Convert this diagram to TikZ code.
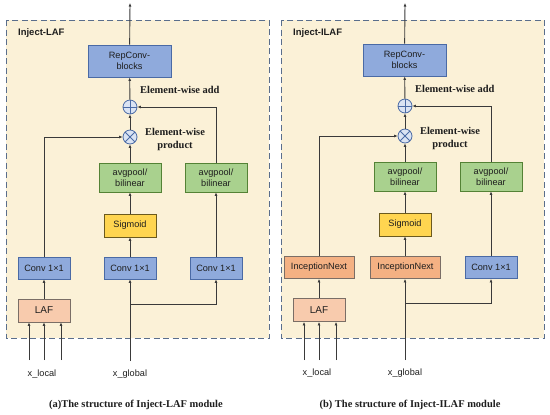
\documentclass[tikz,border=0pt]{standalone}
\usepackage{fontspec}
\setmainfont{Liberation Sans}
\newfontfamily\capfont{Liberation Serif}
\usepackage{tikz}
\usetikzlibrary{arrows.meta,positioning}
\definecolor{framebg}{HTML}{FBF1D7}
\definecolor{framegray}{HTML}{5A6E8C}
\definecolor{convblue}{HTML}{8FAADC}
\definecolor{convedge}{HTML}{4A6AA5}
\definecolor{sigyellow}{HTML}{FFD550}
\definecolor{sigedge}{HTML}{6B5A1E}
\definecolor{poolgreen}{HTML}{A9D18E}
\definecolor{pooledge}{HTML}{548235}
\definecolor{lafpeach}{HTML}{F8CBAD}
\definecolor{incorange}{HTML}{F4B183}
\definecolor{warmedge}{HTML}{7A6E66}
\definecolor{opfill}{HTML}{DAE3F3}
\definecolor{wire}{HTML}{3A3A3A}
\definecolor{ink}{HTML}{1E1E1E}

\begin{document}
\begin{tikzpicture}[
  x=1bp, y=-1bp,
  every node/.style={font=\fontsize{9.2}{10.5}\selectfont, align=center, inner sep=0pt, text=ink},
  blk/.style={draw, line width=0.8bp, minimum height=22bp, minimum width=52bp},
  conv/.style={blk, fill=convblue, draw=convedge},
  rep/.style={blk, fill=convblue, draw=convedge, minimum width=83bp, minimum height=32bp},
  sig/.style={blk, fill=sigyellow, draw=sigedge, minimum height=23bp},
  pool/.style={blk, fill=poolgreen, draw=pooledge, minimum width=62bp, minimum height=29bp},
  laf/.style={blk, fill=lafpeach, draw=warmedge, minimum height=23bp, font=\fontsize{10}{12}\selectfont},
  inc/.style={blk, fill=incorange, draw=warmedge, minimum width=70bp},
  op/.style={circle, draw=convedge, fill=opfill, line width=0.8bp, minimum size=14bp},
  oplus/.style={op, path picture={\draw[convedge, line width=0.8bp]
      (path picture bounding box.north) -- (path picture bounding box.south)
      (path picture bounding box.west) -- (path picture bounding box.east);}},
  otimes/.style={op, path picture={\draw[convedge, line width=0.8bp]
      (path picture bounding box.north west) -- (path picture bounding box.south east)
      (path picture bounding box.south west) -- (path picture bounding box.north east);}},
  frame/.style={fill=framebg, draw=framegray, line width=1bp, dash pattern=on 6bp off 3.5bp},
  ttl/.style={font=\fontsize{9.5}{11}\selectfont\bfseries, anchor=west},
  opl/.style={font=\capfont\fontsize{10.5}{12.5}\selectfont\bfseries},
  captxt/.style={font=\capfont\fontsize{10.5}{12.5}\selectfont\bfseries},
  arr/.style={-{Latex[length=3.5bp,width=3bp]}, line width=0.9bp, color=wire},
]
  \useasboundingbox (0,0) rectangle (550,414);

  % (a) Inject-LAF
  \draw[frame] (6,20) rectangle (269,338);
  \node[ttl] (a-title) at (18,33) {Inject-LAF};
  \node[rep] (a-rep) at (129.5,61) {RepConv-\\blocks};
  \node[oplus] (a-add) at (130,107) {};
  \node[otimes] (a-mul) at (130,137) {};
  \node[opl, anchor=west] (a-addl) at (140,90) {Element-wise add};
  \node[opl] (a-mull) at (175,139.5) {Element-wise\\product};
  \node[pool] (a-pool1) at (130,177.5) {avgpool/\\bilinear};
  \node[pool] (a-pool2) at (216,177.5) {avgpool/\\bilinear};
  \node[sig] (a-sig) at (130,225.5) {Sigmoid};
  \node[conv] (a-conv1) at (44,268) {Conv 1×1};
  \node[conv] (a-conv2) at (130,268) {Conv 1×1};
  \node[conv] (a-conv3) at (216,268) {Conv 1×1};
  \node[laf] (a-laf) at (44,310.5) {LAF};
  \node (a-xl) at (42,374) {x\_local};
  \node (a-xg) at (130,374) {x\_global};
  \node[captxt] (a-cap) at (136,405) {(a)The structure of Inject-LAF module};
  \coordinate (a-out) at (130,3);
  \coordinate (a-in1) at (29,360);
  \coordinate (a-in2) at (44,360);
  \coordinate (a-in3) at (61,360);
  \coordinate (a-g) at (130,361);
  \coordinate (a-br) at (130,304);

  \draw[arr] (a-rep) -- (a-out);
  \draw[arr] (a-add) -- (a-rep);
  \draw[arr] (a-mul) -- (a-add);
  \draw[arr] (a-pool1) -- (a-mul);
  \draw[arr] (a-sig) -- (a-pool1);
  \draw[arr] (a-conv2) -- (a-sig);
  \draw[arr] (a-conv1.north) |- (a-mul.west);
  \draw[arr] (a-pool2.north) |- (a-add.east);
  \draw[arr] (a-conv3) -- (a-pool2);
  \draw[arr] (a-laf) -- (a-conv1);
  \foreach \i in {1,2,3}
    \draw[arr] (a-in\i) -- (a-in\i |- a-laf.south);
  \draw[arr] (a-g) -- (a-conv2);
  \draw[arr] (a-br) -| (a-conv3.south);

  % (b) Inject-ILAF
  \draw[frame] (281,20) rectangle (544,338);
  \node[ttl] (b-title) at (293,33) {Inject-ILAF};
  \node[rep] (b-rep) at (404.5,60) {RepConv-\\blocks};
  \node[oplus] (b-add) at (405,106) {};
  \node[otimes] (b-mul) at (405,136) {};
  \node[opl, anchor=west] (b-addl) at (415,89) {Element-wise add};
  \node[opl] (b-mull) at (450,138.5) {Element-wise\\product};
  \node[pool] (b-pool1) at (405,176.5) {avgpool/\\bilinear};
  \node[pool] (b-pool2) at (491,176.5) {avgpool/\\bilinear};
  \node[sig] (b-sig) at (405,224.5) {Sigmoid};
  \node[inc] (b-inc1) at (319,267.5) {InceptionNext};
  \node[inc] (b-inc2) at (405.5,267.5) {InceptionNext};
  \node[conv] (b-conv3) at (491,267.5) {Conv 1×1};
  \node[laf] (b-laf) at (319,310) {LAF};
  \node (b-xl) at (317,373) {x\_local};
  \node (b-xg) at (405,373) {x\_global};
  \node[captxt] (b-cap) at (410,405) {(b) The structure of Inject-ILAF module};
  \coordinate (b-out) at (405,3);
  \coordinate (b-in1) at (304,360);
  \coordinate (b-in2) at (319,360);
  \coordinate (b-in3) at (336,360);
  \coordinate (b-g) at (405,360);
  \coordinate (b-br) at (405,303);

  \draw[arr] (b-rep) -- (b-out);
  \draw[arr] (b-add) -- (b-rep);
  \draw[arr] (b-mul) -- (b-add);
  \draw[arr] (b-pool1) -- (b-mul);
  \draw[arr] (b-sig) -- (b-pool1);
  \draw[arr] (b-inc2.north -| b-sig) -- (b-sig);
  \draw[arr] (b-inc1.north) |- (b-mul.west);
  \draw[arr] (b-pool2.north) |- (b-add.east);
  \draw[arr] (b-conv3) -- (b-pool2);
  \draw[arr] (b-laf) -- (b-inc1);
  \foreach \i in {1,2,3}
    \draw[arr] (b-in\i) -- (b-in\i |- b-laf.south);
  \draw[arr] (b-g) -- (b-g |- b-inc2.south);
  \draw[arr] (b-br) -| (b-conv3.south);
\end{tikzpicture}
\end{document}
